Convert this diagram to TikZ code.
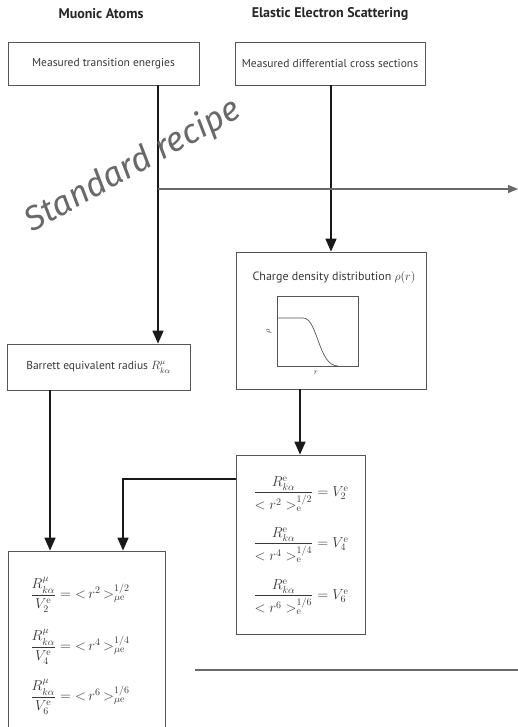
\documentclass[tikz,border=0pt]{standalone}
\usepackage{amsmath}
\usepackage[no-math]{fontspec}
\setmainfont{PT Sans}
\newfontfamily\handfont{Fira Sans}
\usetikzlibrary{arrows.meta, positioning}
\definecolor{boxline}{RGB}{85, 85, 85}
\definecolor{boxtext}{RGB}{55, 55, 55}
\definecolor{recipegray}{RGB}{105, 105, 105}

\begin{document}
\begin{tikzpicture}[
    x=1pt, y=-1pt,
    >={Triangle[length=13pt, width=11pt]},
    box/.style={draw=boxline, line width=0.8pt, inner sep=0pt, text=boxtext,
        font=\fontsize{11.5}{13}\selectfont},
    title/.style={font=\fontsize{14}{16}\selectfont\bfseries, text=black!85},
    eq/.style={text=boxtext, inner sep=1pt, font=\fontsize{14}{16}\selectfont},
    flow/.style={->, line width=1.7pt, black!90},
    recipe/.style={line width=1.2pt, recipegray}
]
\useasboundingbox (0,0) rectangle (518,727);
\clip (0,0) rectangle (518,727);

% === Titulos ===
\node[title] (muon) at (101, 14) {Muonic Atoms};
\node[title] (elec) at (330, 14) {Elastic Electron Scattering};

% === Cajas ===
\node[box, minimum width=191pt, minimum height=43pt] (trans) at (103.5, 63.5) {Measured transition energies};
\node[box, minimum width=190pt, minimum height=43pt] (cross) at (330, 63.5) {Measured differential cross sections};
\node[box, minimum width=190pt, minimum height=137pt] (charge) at (331, 320.5) {};
\node[box, minimum width=183pt, minimum height=46pt] (barrett) at (98.5, 367) {Barrett equivalent radius $R^{\mu}_{k\alpha}$};
\node[box, minimum width=129pt, minimum height=179pt] (vbox) at (300.5, 544.5) {};
\node[box, minimum width=157pt, minimum height=200pt] (final) at (86.5, 651) {};

% Ecuaciones electron
\node[eq] (ve2) at (301, 494) {$\dfrac{R^{\mathrm{e}}_{k\alpha}}{<r^2>^{1/2}_{\mathrm{e}}} = V^{\mathrm{e}}_2$};
\node[eq] (ve4) at (301, 545) {$\dfrac{R^{\mathrm{e}}_{k\alpha}}{<r^4>^{1/4}_{\mathrm{e}}} = V^{\mathrm{e}}_4$};
\node[eq] (ve6) at (301, 597) {$\dfrac{R^{\mathrm{e}}_{k\alpha}}{<r^6>^{1/6}_{\mathrm{e}}} = V^{\mathrm{e}}_6$};

% Ecuaciones muon
\node[eq] (rm2) at (80, 595) {$\dfrac{R^{\mu}_{k\alpha}}{V^{\mathrm{e}}_2} ={<}\,r^2\,{>}^{1/2}_{\mu\mathrm{e}}$};
\node[eq] (rm4) at (80, 647) {$\dfrac{R^{\mu}_{k\alpha}}{V^{\mathrm{e}}_4} ={<}\,r^4\,{>}^{1/4}_{\mu\mathrm{e}}$};
\node[eq] (rm6) at (80, 697) {$\dfrac{R^{\mu}_{k\alpha}}{V^{\mathrm{e}}_6} ={<}\,r^6\,{>}^{1/6}_{\mu\mathrm{e}}$};

% === Distribucion de carga ===
\node[text=boxtext, font=\fontsize{12}{14}\selectfont] (chargetitle) at (334, 277) {Charge density distribution $\rho(r)$};
\draw[boxline, line width=0.7pt] (277, 296) rectangle (358, 366);
\draw[boxline, line width=0.7pt] (277, 318) -- (303, 318)
    .. controls (318, 318) and (318, 366) .. (338, 366);
\node[text=boxtext, font=\fontsize{8}{9}\selectfont, rotate=90] (rholabel) at (269, 331) {$\rho$};
\node[text=boxtext, font=\fontsize{8}{9}\selectfont] (rlabel) at (316, 373) {$r$};

% === Conectores ===
\coordinate (mx) at (158, 0);
\coordinate (cx) at (300, 0);
\coordinate (bx) at (50, 0);
\coordinate (ex) at (123, 479);
\coordinate (recipeend) at (518, 189);
\coordinate (lineA) at (195, 670);
\coordinate (lineB) at (518, 670);

\draw[flow] (trans.south -| mx) -- (barrett.north -| mx);
\draw[flow] (cross.south -| charge.north) -- (charge.north);
\draw[flow] (charge.south -| cx) -- (vbox.north -| cx);
\draw[flow] (barrett.south -| bx) -- (final.north -| bx);
\draw[flow] (vbox.west |- ex) -| (final.north -| ex);

% receta estandar
\draw[recipe, -{Triangle[length=10pt, width=8pt]}] (mx |- recipeend) -- (recipeend);
\draw[recipe] (lineA) -- (lineB);
\node[text=recipegray, rotate=29, font=\handfont\itshape\fontsize{34}{38}\selectfont] (recipetext) at (133, 166) {Standard recipe};

\end{tikzpicture}
\end{document}
